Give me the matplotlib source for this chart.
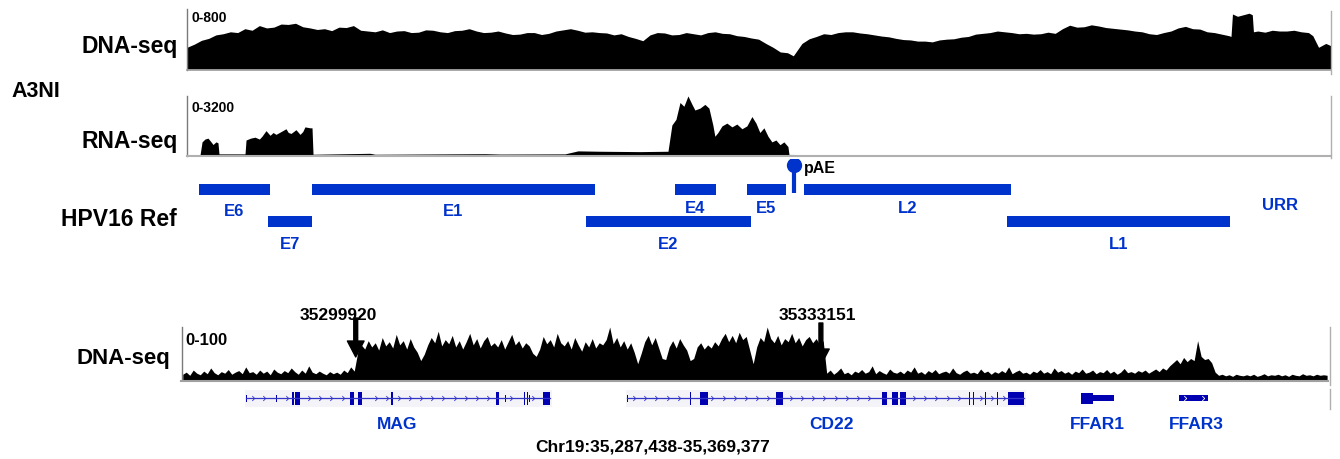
import numpy as np
import matplotlib
matplotlib.use("Agg")
import matplotlib.pyplot as plt
from matplotlib.patches import Rectangle
from matplotlib.path import Path
from matplotlib.lines import Line2D
from matplotlib.transforms import Affine2D, blended_transform_factory

plt.rcParams["font.family"] = ["Liberation Sans", "DejaVu Sans"]
plt.rcParams["font.weight"] = "bold"

W, H = 1340, 460
HPV_LEN = 7906

# ---- HPV16 DNA-seq coverage (0-800) ----
dna_pos = [0, 50, 100, 150, 200, 250, 300, 350, 400, 450, 500, 550, 600, 650, 700,
           750, 800, 850, 900, 950, 1000, 1050, 1100, 1150, 1200, 1250, 1300, 1350,
           1400, 1450, 1500, 1550, 1600, 1650, 1700, 1750, 1800, 1850, 1900, 1950,
           2000, 2050, 2100, 2150, 2200, 2250, 2300, 2350, 2400, 2450, 2500, 2550,
           2600, 2650, 2700, 2750, 2800, 2850, 2900, 2950, 3000, 3050, 3100, 3150,
           3200, 3250, 3300, 3350, 3400, 3450, 3500, 3550, 3600, 3650, 3700, 3750,
           3800, 3850, 3900, 3950, 4000, 4050, 4100, 4150, 4190, 4220, 4250, 4300,
           4350, 4400, 4450, 4500, 4550, 4600, 4650, 4700, 4750, 4800, 4850, 4900,
           4950, 5000, 5050, 5100, 5150, 5200, 5250, 5300, 5350, 5400, 5450, 5500,
           5550, 5600, 5650, 5700, 5750, 5800, 5850, 5900, 5950, 6000, 6050, 6100,
           6150, 6200, 6250, 6300, 6350, 6400, 6450, 6500, 6550, 6600, 6650, 6700,
           6750, 6800, 6850, 6900, 6950, 7000, 7050, 7100, 7150, 7200, 7215, 7225,
           7260, 7300, 7340, 7362, 7370, 7400, 7450, 7500, 7550, 7600, 7650, 7700,
           7750, 7780, 7820, 7850, 7870, 7906]
dna_val = [280, 320, 370, 395, 440, 455, 480, 470, 520, 500, 560, 530, 540, 580, 575,
           590, 545, 530, 510, 520, 495, 540, 535, 560, 500, 490, 480, 505,
           470, 490, 495, 470, 475, 505, 500, 480, 470, 495, 500, 520,
           490, 470, 475, 490, 465, 445, 450, 470, 470, 445, 460, 490,
           505, 520, 500, 475, 480, 470, 465, 440, 455, 420, 395, 365,
           440, 470, 465, 440, 445, 470, 455, 440, 470, 480, 460, 455,
           430, 420, 400, 385, 330, 280, 220, 210, 170, 250, 330, 390,
           420, 455, 445, 470, 480, 480, 465, 455, 440, 425, 415, 395,
           380, 375, 360, 360, 350, 375, 385, 390, 410, 420, 450, 460,
           470, 490, 480, 470, 455, 460, 450, 455, 475, 460, 520, 565,
           540, 545, 570, 555, 535, 525, 515, 505, 490, 480, 455, 445,
           470, 490, 530, 550, 520, 515, 480, 470, 450, 430, 420, 710,
           680, 700, 720, 700, 480, 490, 475, 500, 490, 490, 500, 480,
           470, 430, 280, 310, 330, 300]

# ---- HPV16 RNA-seq coverage (0-3200) ----
rna_pos = [0, 90, 104, 124, 145, 166, 180, 200, 214, 221, 401, 408, 440, 470, 500,
           518, 546, 574, 595, 615, 650, 684, 700, 719, 753, 781, 800, 815, 850, 864,
           871, 1265, 1300, 2059, 2163, 2612, 2702, 2854, 3130, 3324, 3351, 3379,
           3407, 3434, 3462, 3490, 3510, 3545, 3579, 3607, 3634, 3648, 3669, 3697,
           3731, 3766, 3800, 3835, 3869, 3904, 3932, 3959, 3987, 4015, 4042, 4070,
           4098, 4125, 4153, 4160, 4300, 7906]
rna_val = [0, 0, 700, 850, 900, 700, 560, 700, 650, 60, 60, 800, 900, 950, 850,
           1000, 1300, 1050, 1200, 1100, 1250, 1400, 1200, 1150, 1350, 1100, 1250,
           1500, 1450, 1450, 40, 90, 40, 70, 50, 60, 220, 200, 180, 200, 1600, 1900,
           2800, 2600, 3150, 2700, 2400, 2500, 2700, 2500, 1600, 1000, 1200, 1550,
           1700, 1500, 1650, 1400, 1550, 2050, 1700, 1200, 1450, 1000, 700, 800,
           550, 700, 450, 30, 20, 20]

# ---- HPV16 annotation ----
hpv_names = ["E6", "E7", "E1", "E2", "E4", "E5", "L2", "L1"]
hpv_start = [83, 560, 864, 2757, 3372, 3870, 4263, 5666]
hpv_end = [574, 864, 2819, 3897, 3655, 4139, 5694, 7207]
hpv_row = [0, 1, 0, 1, 0, 0, 0, 1]
URR_START, URR_END = 7207, 7906
PAE_POS = 4195

# ---- chr19 DNA-seq coverage (0-100), 250 bp bins ----
CHR_START, CHR_END = 35287438, 35369377
BIN = 250
cov_before = [10, 14, 8, 18, 12, 9, 16, 11, 22, 13,
              9, 15, 12, 19, 10, 14, 17, 11, 24, 13,
              15, 10, 18, 12, 16, 9, 20, 14, 11, 17,
              13, 22, 15, 10, 18, 12, 26, 14, 11, 16,
              12, 9, 15, 11, 14, 10, 18, 13, 24, 16]
cov_inside = [52, 66, 58, 74, 62, 70, 56, 80, 64, 72,
              60, 86, 66, 74, 58, 78, 62, 52, 36, 48,
              66, 80, 70, 92, 64, 76, 68, 84, 62, 74,
              58, 72, 88, 66, 78, 60, 74, 82, 64, 70,
              62, 76, 58, 72, 86, 66, 74, 60, 70, 64,
              50, 44, 58, 82, 68, 76, 62, 88, 70, 64,
              74, 58, 80, 66, 54, 72, 62, 78, 60, 70,
              66, 76, 100, 68, 80, 62, 74, 58, 70, 52,
              30, 50, 72, 84, 66, 80, 60, 40, 38, 62,
              74, 60, 78, 66, 56, 36, 40, 62, 70, 58,
              66, 60, 72, 64, 78, 88, 72, 84, 70, 90,
              76, 82, 56, 30, 62, 80, 72, 100, 78, 70,
              84, 66, 78, 72, 88, 70, 80, 64, 76, 82,
              70, 78, 66, 74]
cov_after = [12, 18, 10, 15, 22, 11, 14, 9, 16, 13,
             19, 12, 15, 26, 11, 17, 13, 10, 20, 14,
             12, 16, 11, 18, 14, 24, 12, 15, 10, 17,
             13, 19, 11, 14, 16, 12, 22, 13, 10, 15,
             18, 12, 14, 11, 20, 13, 16, 10, 15, 12,
             17, 13, 24, 11, 15, 18, 12, 14, 10, 16,
             13, 19, 12, 15, 11, 22, 14, 17, 12, 15,
             10, 16, 13, 20, 12, 14, 18, 11, 15, 13,
             19, 12, 16, 10, 14, 21, 13, 15, 12, 17,
             14, 18, 12, 16, 20, 15, 22, 18, 26, 32,
             38, 30, 42, 34, 40, 36, 74, 44, 38, 40,
             32, 14, 8, 10, 7, 9, 6, 10, 8, 7,
             9, 7, 10, 6, 8, 11, 7, 9, 8, 10,
             7, 9, 6, 10, 8, 7, 11, 8, 9, 7,
             10, 8, 9, 8]
breakpoints = [35299920, 35333151]

# ---- chr19 genes: (start, end, tall) exons ----
genes = {
    "MAG": [(35292082, 35292150, False), (35294190, 35294260, False),
            (35295400, 35295470, True), (35295582, 35295939, True),
            (35299511, 35299797, True), (35300083, 35300369, True),
            (35302440, 35302583, True), (35309942, 35310156, True),
            (35310550, 35310620, False), (35311910, 35311980, True),
            (35312130, 35312190, True), (35312270, 35312330, False),
            (35313299, 35313799, True)],
    "CD22": [(35319300, 35319370, False), (35323780, 35323850, True),
             (35324515, 35325087, True), (35329945, 35330445, True),
             (35337517, 35337874, True), (35338232, 35338660, True),
             (35338803, 35339232, True), (35343700, 35343770, True),
             (35344000, 35344070, True), (35344850, 35344920, True),
             (35345700, 35345770, True), (35346519, 35347662, True)],
    "FFAR1": [(35351734, 35352591, True), (35352591, 35354091, False)],
    "FFAR3": [(35358735, 35360807, False)],
}
gene_label_x = {"MAG": 35302900, "CD22": 35333900, "FFAR1": 35352900, "FFAR3": 35360000}

BLUE = "#0033cc"
GENE_BLUE = "#0000b2"

fig = plt.figure(figsize=(W / 100, H / 100), dpi=100)
PX = Affine2D().scale(1 / W, -1 / H).translate(0, 1) + fig.transFigure


def box(x0, y0, x1, y1):
    a = fig.add_axes([x0 / W, 1 - y1 / H, (x1 - x0) / W, (y1 - y0) / H])
    a.set_axis_off()
    return a


def ptext(x, y, s, size, ha="left", color="black"):
    fig.text(x, y, s, transform=PX, fontsize=size, ha=ha, va="baseline",
             color=color, fontweight="bold")


def pline(xs, ys, color, lw=1.0):
    fig.add_artist(Line2D(xs, ys, transform=PX, color=color, lw=lw))


# top DNA-seq
ax1 = box(187, 8, 1331, 70)
ax1.fill_between(dna_pos, 0, dna_val, color="black", lw=0)
ax1.set_xlim(0, HPV_LEN)
ax1.set_ylim(0, 800)

# RNA-seq
ax2 = box(187, 96, 1331, 156)
ax2.fill_between(rna_pos, 0, rna_val, color="black", lw=0)
ax2.set_xlim(0, HPV_LEN)
ax2.set_ylim(0, 3200)

# track frame lines
pline([187, 187], [10, 70.5], "#7a7a7a")
pline([187, 1331], [70.8, 70.8], "#9a9a9a", 1.2)
pline([1331, 1331], [12, 75], "#b0b0b0")
pline([187, 187], [97, 157], "#7a7a7a")
pline([187, 1331], [157, 157], "#b0b0b0", 1.5)
pline([1331, 1331], [97, 159], "#b0b0b0")

# HPV16 annotation track (y in pixel rows)
ax3 = box(187, 160, 1331, 260)
ax3.set_xlim(0, HPV_LEN)
ax3.set_ylim(260, 160)
row_y = [(185, 196), (217, 228)]
row_lab = [216, 249]
for name, s, e, r in zip(hpv_names, hpv_start, hpv_end, hpv_row):
    y0, y1 = row_y[r]
    ax3.add_patch(Rectangle((s, y0), e - s, y1 - y0, color=BLUE, lw=0))
    lab_y = row_lab[r] - (3 if name in ("E4", "E5", "L2") else 0)
    ax3.text((s + e) / 2, lab_y, name, color=BLUE, fontsize=12, ha="center",
             va="baseline", fontweight="bold")
ax3.text((URR_START + URR_END) / 2, 210, "URR", color=BLUE, fontsize=12,
         ha="center", va="baseline", fontweight="bold")
ax3.plot([PAE_POS, PAE_POS], [166, 194], color=BLUE, lw=3, solid_capstyle="butt")
ax3.plot([PAE_POS], [166], "o", color=BLUE, ms=10)
ax3.text(PAE_POS + 70, 173, "pAE", fontsize=11.5, ha="left", va="baseline",
         fontweight="bold")

# chr19 DNA-seq coverage
cov_val = cov_before + cov_inside + cov_after
cov_pos = CHR_START + BIN * np.arange(len(cov_val)) + BIN / 2
ax4 = box(181, 328, 1328, 380.5)
ax4.fill_between(cov_pos, 0, cov_val, color="black", lw=0)
ax4.set_xlim(CHR_START, CHR_END)
ax4.set_ylim(0, 100)
pline([182, 182], [328, 381], "#7a7a7a")
pline([181, 1328], [381.5, 381.5], "#a0a0a0", 1.5)
pline([1330, 1330], [328, 386], "#b0b0b0")
pline([1330, 1330], [390, 410], "#b0b0b0")

bt = blended_transform_factory(ax4.transData, PX)
arrow_top = [319, 324]
arrow_tip = [358, 366]
label_dx = [-17, -4]
for bp, top, tip, dx in zip(breakpoints, arrow_top, arrow_tip, label_dx):
    ax4.annotate("", xy=(bp, tip), xytext=(bp, top), xycoords=bt, textcoords=bt,
                 annotation_clip=False,
                 arrowprops=dict(arrowstyle="simple,head_width=1.2,head_length=1.15,tail_width=0.28",
                                 mutation_scale=10, color="black", shrinkA=0, shrinkB=0))
    ax4.annotate(str(bp), xy=(bp, 320), xycoords=bt, xytext=(dx * 0.72, 0),
                 textcoords="offset points", ha="center", va="baseline",
                 fontsize=12.5, fontweight="bold", annotation_clip=False)

# chr19 gene track
ax5 = box(181, 385, 1328, 455)
ax5.set_xlim(CHR_START, CHR_END)
ax5.set_ylim(455, 385)
GY = 399
chev = Path([(-0.5, 1), (0.5, 0), (-0.5, -1)], [Path.MOVETO, Path.LINETO, Path.LINETO])
min_w = 75
for name, exons in genes.items():
    g0 = exons[0][0]
    g1 = exons[-1][1]
    if name in ("MAG", "CD22"):
        ax5.add_patch(Rectangle((g0 - 70, 391), g1 - g0 + 200, 17, color="#f3f3f8", lw=0))
        ax5.plot([g0, g1], [GY, GY], color="#3333c8", lw=0.9)
        cx = np.arange(g0 + 500, g1 - 300, 800)
        keep = [x for x in cx if all(not (s - 250 < x < e + 250) for s, e, _ in exons)]
        ax5.plot(keep, [GY] * len(keep), ls="none", marker=chev, ms=3.5, mew=0.6,
                 mfc="none", mec="#3333c8")
    for s, e, tall in exons:
        h = 13 if tall else 7
        if name.startswith("FFAR"):
            h = 11 if tall else 6
        ax5.add_patch(Rectangle((s, GY - h / 2), max(e - s, min_w), h,
                                color=GENE_BLUE, lw=0))
    if name == "FFAR3":
        ax5.plot([g0 + 450, g1 - 350], [GY, GY], ls="none", marker=chev, ms=3.5,
                 mew=0.6, mfc="none", mec="white")
    ax5.text(gene_label_x[name], 429, name, color=BLUE, fontsize=12.5, ha="center",
             va="baseline", fontweight="bold")

# track labels
ptext(178, 53, "DNA-seq", 16.5, ha="right")
ptext(11, 97, "A3NI", 15.5)
ptext(178, 148, "RNA-seq", 16.5, ha="right")
ptext(177, 226, "HPV16 Ref", 16.5, ha="right")
ptext(170, 364, "DNA-seq", 16, ha="right")
ptext(191, 22, "0-800", 10)
ptext(191, 112, "0-3200", 10)
ptext(185, 345, "0-100", 12)
ptext(653, 452, "Chr19:35,287,438-35,369,377", 12.5, ha="center")

fig.savefig("out.png", dpi=100)
